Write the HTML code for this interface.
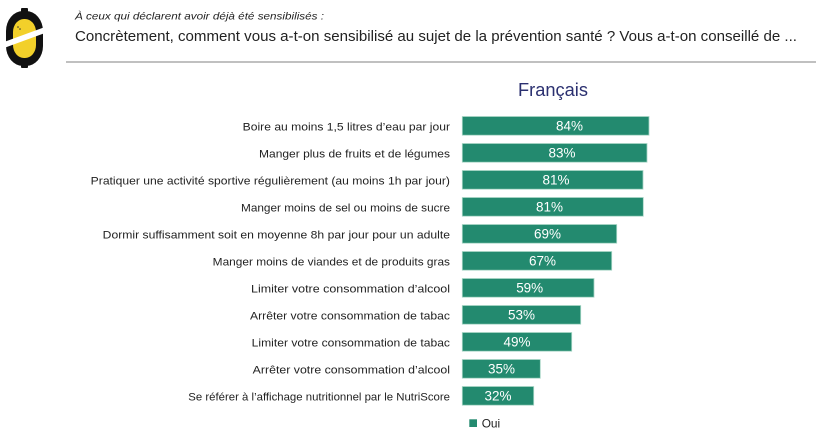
<!DOCTYPE html>
<html>
<head>
<meta charset="utf-8">
<style>
  html,body{margin:0;padding:0;background:#fff;}
  svg{display:block;}
  text{font-family:"Liberation Sans",Arial,sans-serif;}
</style>
</head>
<body>
<svg width="816" height="436" viewBox="0 0 816 436" xmlns="http://www.w3.org/2000/svg">
  <rect width="816" height="436" fill="#fff"/>

  <!-- Logo -->
  <g>
    <rect x="21" y="8" width="7" height="5" rx="1" fill="#111"/>
    <rect x="21" y="63" width="7" height="5" rx="1" fill="#111"/>
    <rect x="6" y="11" width="37" height="55" rx="17" ry="20" fill="#111"/>
    <rect x="13" y="19" width="23" height="39" rx="11" ry="13" fill="#f2d02a"/>
    <polygon points="4,42 45,27 45,33 4,48" fill="#fff"/>
    <circle cx="18" cy="27" r="0.8" fill="#333"/>
    <circle cx="20" cy="29" r="0.8" fill="#333"/>
  </g>

  <!-- Header text -->
  <text x="75" y="19.5" font-size="10.5" font-style="italic" fill="#222" textLength="249" lengthAdjust="spacingAndGlyphs">À ceux qui déclarent avoir déjà été sensibilisés :</text>
  <text x="75" y="41" font-size="15" fill="#222" textLength="722" lengthAdjust="spacingAndGlyphs">Concrètement, comment vous a-t-on sensibilisé au sujet de la prévention santé ? Vous a-t-on conseillé de ...</text>
  <rect x="66" y="61" width="750" height="2" fill="#c0c0c0"/>

  <!-- Title -->
  <text x="518" y="96" font-size="18.5" fill="#2b3070" textLength="70" lengthAdjust="spacingAndGlyphs">Français</text>

  <!-- Category labels -->
  <g font-size="11" fill="#222" text-anchor="end">
    <text x="450" y="130.3" textLength="207.3" lengthAdjust="spacingAndGlyphs">Boire au moins 1,5 litres d’eau par jour</text>
    <text x="450" y="157.3" textLength="191" lengthAdjust="spacingAndGlyphs">Manger plus de fruits et de légumes</text>
    <text x="450" y="184.3" textLength="359.3" lengthAdjust="spacingAndGlyphs">Pratiquer une activité sportive régulièrement (au moins 1h par jour)</text>
    <text x="450" y="211.3" textLength="209" lengthAdjust="spacingAndGlyphs">Manger moins de sel ou moins de sucre</text>
    <text x="450" y="238.3" textLength="347.3" lengthAdjust="spacingAndGlyphs">Dormir suffisamment soit en moyenne 8h par jour pour un adulte</text>
    <text x="450" y="265.3" textLength="237.3" lengthAdjust="spacingAndGlyphs">Manger moins de viandes et de produits gras</text>
    <text x="450" y="292.3" textLength="199" lengthAdjust="spacingAndGlyphs">Limiter votre consommation d’alcool</text>
    <text x="450" y="319.3" textLength="200" lengthAdjust="spacingAndGlyphs">Arrêter votre consommation de tabac</text>
    <text x="450" y="346.3" textLength="198.3" lengthAdjust="spacingAndGlyphs">Limiter votre consommation de tabac</text>
    <text x="450" y="373.3" textLength="197.3" lengthAdjust="spacingAndGlyphs">Arrêter votre consommation d’alcool</text>
    <text x="450" y="400.3" textLength="261.7" lengthAdjust="spacingAndGlyphs">Se référer à l’affichage nutritionnel par le NutriScore</text>
  </g>

  <!-- Bars -->
  <g fill="#238a6f" stroke="#a8d6c6" stroke-width="0.8">
    <rect x="462.3" y="116.5" width="186.7" height="18.7"/>
    <rect x="462.3" y="143.5" width="184.7" height="18.7"/>
    <rect x="462.3" y="170.5" width="180.7" height="18.7"/>
    <rect x="462.3" y="197.5" width="181" height="18.7"/>
    <rect x="462.3" y="224.5" width="154.4" height="18.7"/>
    <rect x="462.3" y="251.5" width="149.4" height="18.7"/>
    <rect x="462.3" y="278.5" width="131.7" height="18.7"/>
    <rect x="462.3" y="305.5" width="118.4" height="18.7"/>
    <rect x="462.3" y="332.5" width="109.4" height="18.7"/>
    <rect x="462.3" y="359.5" width="78" height="18.7"/>
    <rect x="462.3" y="386.5" width="71.4" height="18.7"/>
  </g>

  <!-- Value labels -->
  <g font-size="13.5" fill="#fff" text-anchor="middle">
    <text x="569.5" y="130.7" textLength="27" lengthAdjust="spacingAndGlyphs">84%</text>
    <text x="562" y="157.7" textLength="27" lengthAdjust="spacingAndGlyphs">83%</text>
    <text x="556" y="184.7" textLength="27" lengthAdjust="spacingAndGlyphs">81%</text>
    <text x="549.5" y="211.7" textLength="27" lengthAdjust="spacingAndGlyphs">81%</text>
    <text x="547.5" y="238.7" textLength="27" lengthAdjust="spacingAndGlyphs">69%</text>
    <text x="542.5" y="265.7" textLength="27" lengthAdjust="spacingAndGlyphs">67%</text>
    <text x="529.7" y="292.7" textLength="27" lengthAdjust="spacingAndGlyphs">59%</text>
    <text x="521.5" y="319.7" textLength="27" lengthAdjust="spacingAndGlyphs">53%</text>
    <text x="517" y="346.7" textLength="27" lengthAdjust="spacingAndGlyphs">49%</text>
    <text x="501.5" y="373.7" textLength="27" lengthAdjust="spacingAndGlyphs">35%</text>
    <text x="498" y="400.7" textLength="27" lengthAdjust="spacingAndGlyphs">32%</text>
  </g>

  <!-- Legend -->
  <rect x="469.3" y="419.3" width="7.7" height="7.7" fill="#238a6f"/>
  <text x="481.7" y="427.7" font-size="12" fill="#222" textLength="18.5" lengthAdjust="spacingAndGlyphs">Oui</text>
</svg>
</body>
</html>
